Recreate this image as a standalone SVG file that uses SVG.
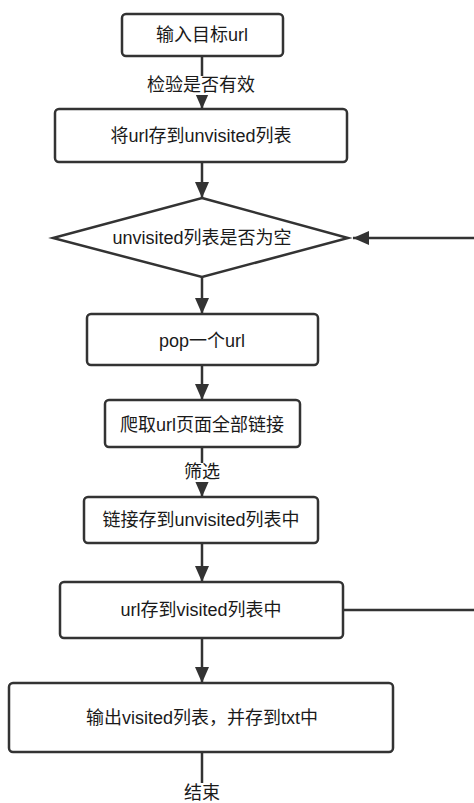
<svg xmlns="http://www.w3.org/2000/svg" width="474" height="803" viewBox="0 0 474 803">
<style>
.box{fill:#fff;stroke:#333;stroke-width:2.5}
.t{font-family:"Liberation Sans","Noto Sans CJK SC",sans-serif;font-size:18px;fill:#1a1a1a;text-anchor:middle;dominant-baseline:central}
.c{fill:none;stroke:#333;stroke-width:2.5}
</style>
<defs>
<marker id="ah" markerUnits="userSpaceOnUse" markerWidth="16" markerHeight="14" refX="16" refY="7" orient="auto">
<path d="M0,0 L16,7 L0,14 Z" fill="#333"/>
</marker>
</defs>
<rect width="474" height="803" fill="#fff"/>
<g id="connectors">
<path class="c" d="M202 56 V109" marker-end="url(#ah)"/>
<path class="c" d="M202 162 V198" marker-end="url(#ah)"/>
<path class="c" d="M202 277 V314" marker-end="url(#ah)"/>
<path class="c" d="M202 365 V400" marker-end="url(#ah)"/>
<path class="c" d="M202 447 V497" marker-end="url(#ah)"/>
<path class="c" d="M202 543 V582" marker-end="url(#ah)"/>
<path class="c" d="M202 638 V683" marker-end="url(#ah)"/>
<path class="c" d="M202 752 V783"/>
<path class="c" d="M343 610 H484 V238 H353" marker-end="url(#ah)"/>
<rect x="142" y="76" width="120" height="19" fill="#fff"/>
<text class="t" x="201" y="85">检验是否有效</text>
<rect x="182" y="463" width="40" height="19" fill="#fff"/>
<text class="t" x="202" y="472">筛选</text>
<text class="t" x="202" y="793">结束</text>
</g>
<g id="n1"><rect class="box" x="122" y="14" width="161" height="42" rx="4"/><text class="t" x="202" y="35">输入目标url</text></g>
<g id="n2"><rect class="box" x="55" y="109" width="292" height="53" rx="4"/><text class="t" x="201" y="136">将url存到unvisited列表</text></g>
<g id="n3"><path class="box" d="M202 198 L348 238 L202 277 L53 238 Z"/><text class="t" x="202" y="238">unvisited列表是否为空</text></g>
<g id="n4"><rect class="box" x="87" y="314" width="231" height="51" rx="4"/><text class="t" x="202" y="341">pop一个url</text></g>
<g id="n5"><rect class="box" x="105" y="400" width="195" height="47" rx="4"/><text class="t" x="202" y="425">爬取url页面全部链接</text></g>
<g id="n6"><rect class="box" x="84" y="497" width="234" height="46" rx="4"/><text class="t" x="201" y="520">链接存到unvisited列表中</text></g>
<g id="n7"><rect class="box" x="60" y="582" width="283" height="56" rx="4"/><text class="t" x="201" y="610">url存到visited列表中</text></g>
<g id="n8"><rect class="box" x="9" y="683" width="384" height="69" rx="4"/><text class="t" x="202" y="718">输出visited列表，并存到txt中</text></g>
</svg>
